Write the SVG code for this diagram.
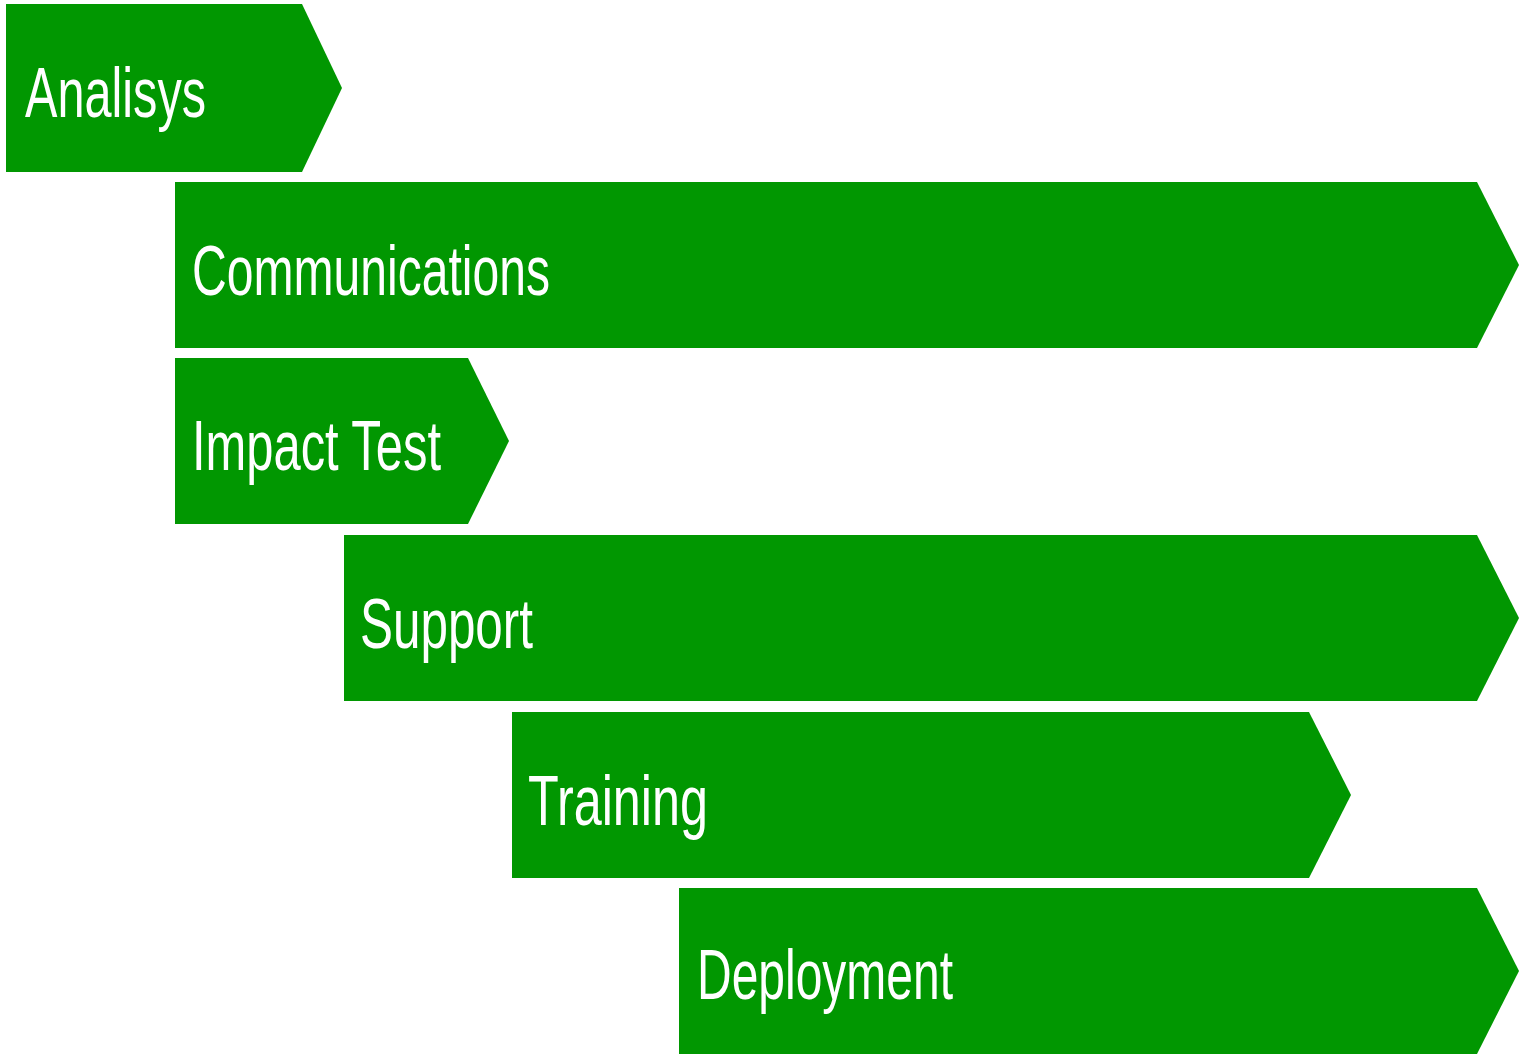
<svg xmlns="http://www.w3.org/2000/svg" width="1526" height="1064" viewBox="0 0 1526 1064">
<style>
.bar{fill:#019701}
.lbl{fill:#ffffff;font-family:"Liberation Sans",Arial,sans-serif;font-size:70px}
</style>
<rect width="1526" height="1064" fill="#ffffff"/>
<g id="analisys">
<polygon class="bar" points="6,4 302,4 342,88 302,172 6,172"/>
<text class="lbl" x="25" y="117" textLength="181" lengthAdjust="spacingAndGlyphs">Analisys</text>
</g>
<g id="communications">
<polygon class="bar" points="175,182 1477,182 1519,265 1477,348 175,348"/>
<text class="lbl" x="192" y="295" textLength="358" lengthAdjust="spacingAndGlyphs">Communications</text>
</g>
<g id="impact-test">
<polygon class="bar" points="175,358 468,358 509,441 468,524 175,524"/>
<text class="lbl" x="192" y="470" textLength="249" lengthAdjust="spacingAndGlyphs">Impact Test</text>
</g>
<g id="support">
<polygon class="bar" points="344,535 1477,535 1519,618 1477,701 344,701"/>
<text class="lbl" x="360" y="648" textLength="173" lengthAdjust="spacingAndGlyphs">Support</text>
</g>
<g id="training">
<polygon class="bar" points="512,712 1309,712 1351,795 1309,878 512,878"/>
<text class="lbl" x="528" y="825" textLength="180" lengthAdjust="spacingAndGlyphs">Training</text>
</g>
<g id="deployment">
<polygon class="bar" points="679,888 1477,888 1519,971 1477,1054 679,1054"/>
<text class="lbl" x="697" y="999" textLength="256" lengthAdjust="spacingAndGlyphs">Deployment</text>
</g>
<g id="connectors"></g>
</svg>
